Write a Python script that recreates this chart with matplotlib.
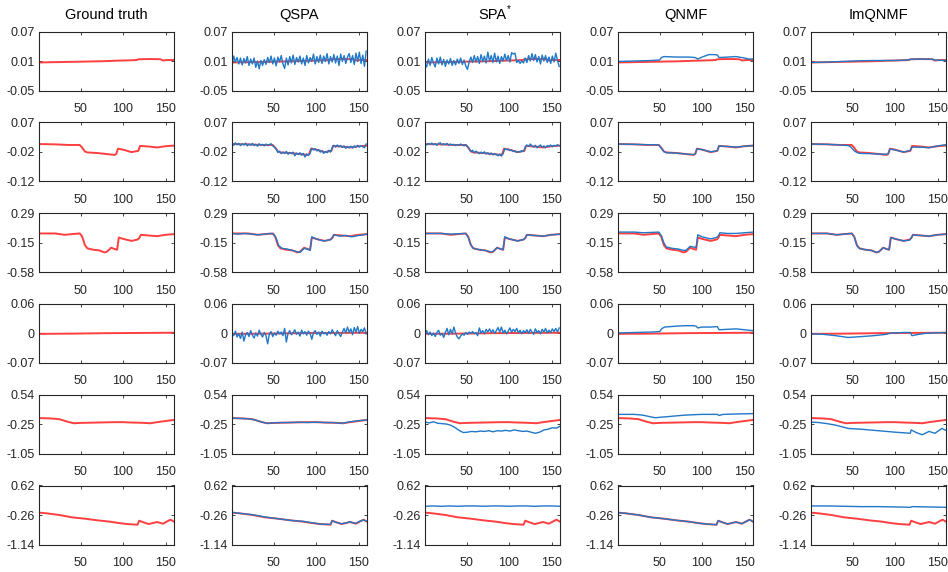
import numpy as np
import matplotlib
matplotlib.use("Agg")
import matplotlib.pyplot as plt

plt.rcParams['font.family'] = ['Liberation Sans', 'DejaVu Sans']

titles = ['Ground truth', 'QSPA', 'SPA', 'QNMF', 'ImQNMF']

ylims = [(-0.05, 0.07), (-0.12, 0.07), (-0.58, 0.29),
         (-0.07, 0.06), (-1.05, 0.54), (-1.14, 0.62)]
ytick_labels = [['-0.05', '0.01', '0.07'], ['-0.12', '-0.02', '0.07'],
                ['-0.58', '-0.15', '0.29'], ['-0.07', '0', '0.06'],
                ['-1.05', '-0.25', '0.54'], ['-1.14', '-0.26', '0.62']]
xticks = [50, 100, 150]

# ground truth curves (red)
gt1_x = [1, 15, 30, 45, 60, 75, 90, 100, 110, 116, 118, 130, 140, 144, 147, 152, 160]
gt1_y = [0.007, 0.0075, 0.008, 0.0085, 0.009, 0.0095, 0.0105, 0.011, 0.0115, 0.012,
         0.0135, 0.014, 0.0138, 0.0135, 0.011, 0.012, 0.012]
gt2_x = [1, 20, 35, 49, 52, 55, 58, 70, 80, 90, 92, 94, 100, 110, 116, 118, 120,
         130, 140, 150, 160]
gt2_y = [0.000, -0.001, -0.003, -0.003, -0.012, -0.024, -0.027, -0.029, -0.032,
         -0.035, -0.032, -0.015, -0.018, -0.026, -0.023, -0.022, -0.006, -0.008,
         -0.011, -0.007, -0.005]
gt3_x = [1, 20, 31, 49, 52, 55, 58, 65, 72, 78, 81, 86, 90, 93, 95, 100, 110, 117,
         119, 121, 130, 140, 150, 160]
gt3_y = [-0.01, -0.01, -0.03, -0.01, -0.06, -0.18, -0.23, -0.25, -0.26, -0.29,
         -0.28, -0.22, -0.24, -0.25, -0.07, -0.09, -0.12, -0.10, -0.08, -0.03,
         -0.04, -0.05, -0.03, -0.02]
gt4_x = [1, 40, 80, 120, 160]
gt4_y = [-0.006, -0.0055, -0.0045, -0.004, -0.0035]
gt5_x = [1, 15, 25, 35, 42, 50, 70, 90, 100, 110, 125, 132, 140, 150, 160]
gt5_y = [-0.09, -0.10, -0.12, -0.19, -0.23, -0.22, -0.21, -0.20, -0.20, -0.21,
         -0.22, -0.23, -0.20, -0.17, -0.14]
gt6_x = [1, 10, 25, 40, 55, 70, 85, 95, 105, 117, 119, 122, 130, 135, 140, 143,
         147, 152, 156, 160]
gt6_y = [-0.19, -0.21, -0.26, -0.33, -0.37, -0.42, -0.46, -0.50, -0.53, -0.55,
         -0.43, -0.46, -0.53, -0.50, -0.47, -0.49, -0.52, -0.45, -0.40, -0.46]

# noisy estimates, sampled every other frame
noisy_x = list(range(1, 161, 2))
qspa1_y = [0.000, 0.020, 0.008, 0.017, 0.004, 0.016, 0.002, 0.015, 0.006, 0.019,
           0.001, 0.014, 0.004, 0.016, -0.003, 0.010, -0.006, 0.011, 0.001, 0.013,
           0.003, 0.017, 0.007, 0.020, 0.004, 0.016, 0.000, 0.018, 0.008, 0.021,
           0.004, -0.005, 0.016, 0.002, 0.019, 0.006, 0.022, 0.003, 0.017, 0.008,
           0.020, 0.004, 0.016, 0.001, 0.021, 0.006, 0.017, 0.009, 0.024, 0.004,
           0.019, 0.007, 0.022, 0.005, 0.020, 0.009, 0.025, 0.004, 0.019, 0.008,
           0.023, 0.006, 0.020, 0.001, 0.024, 0.009, 0.021, 0.005, 0.018, 0.025,
           0.007, 0.021, 0.003, 0.026, 0.009, 0.028, 0.005, 0.022, -0.001, 0.030]
qspa2_y = [0.003, -0.004, 0.004, -0.002, 0.002, -0.005, 0.001, -0.003, 0.003, -0.006,
           0.000, -0.004, 0.002, -0.005, -0.001, -0.007, 0.001, -0.004, -0.001, -0.006,
           0.000, -0.005, -0.002, 0.001, -0.006, -0.010, -0.016, -0.027, -0.023, -0.031,
           -0.026, -0.030, -0.024, -0.033, -0.027, -0.031, -0.026, -0.038, -0.029, -0.034,
           -0.028, -0.036, -0.030, -0.042, -0.032, -0.037, -0.030, -0.013, -0.019, -0.015,
           -0.022, -0.018, -0.026, -0.021, -0.030, -0.024, -0.028, -0.020, -0.026, -0.012,
           -0.004, -0.010, -0.003, -0.009, -0.005, -0.011, -0.006, -0.014, -0.008, -0.012,
           -0.007, -0.013, -0.006, -0.011, -0.004, -0.010, -0.005, -0.009, -0.012, 0.000]
qspa4_y = [-0.004, -0.010, 0.000, -0.013, -0.006, -0.016, -0.002, -0.022, -0.008, -0.003,
           -0.012, 0.001, -0.009, -0.015, -0.004, -0.011, 0.002, -0.007, -0.013, -0.003,
           -0.010, -0.028, -0.006, -0.001, -0.012, -0.004, -0.009, 0.000, -0.006, -0.002,
           -0.010, 0.006, -0.024, -0.005, 0.001, -0.008, -0.003, 0.003, -0.007, -0.002,
           -0.011, 0.002, -0.006, -0.001, -0.009, 0.000, -0.005, -0.018, -0.003, 0.001,
           -0.007, -0.002, -0.011, 0.000, -0.006, -0.003, -0.009, -0.001, -0.006, 0.003,
           -0.004, -0.010, 0.001, -0.006, -0.012, -0.002, 0.006, -0.004, 0.009, -0.003,
           0.005, -0.008, 0.008, -0.002, 0.010, -0.005, 0.004, -0.001, 0.007, -0.006]
spa1_y = [0.004, -0.002, 0.014, 0.001, 0.017, 0.006, -0.002, 0.016, 0.004, 0.018,
          0.002, 0.013, -0.001, 0.012, 0.004, 0.015, 0.001, 0.011, 0.002, 0.014,
          0.005, 0.016, 0.003, 0.012, 0.000, -0.007, 0.008, 0.018, 0.007, 0.021,
          0.008, 0.019, 0.005, 0.023, 0.009, 0.020, 0.006, 0.028, 0.010, 0.021,
          0.007, 0.026, 0.008, 0.020, 0.005, 0.019, 0.010, 0.024, 0.011, 0.021,
          0.008, 0.027, 0.024, 0.026, 0.007, 0.011, 0.005, 0.010, 0.006, 0.016,
          0.007, 0.021, 0.010, 0.025, 0.011, 0.023, 0.008, 0.019, 0.004, 0.022,
          0.010, 0.021, 0.007, 0.018, 0.005, 0.020, 0.008, 0.026, 0.012, -0.001]
spa2_y = [0.001, -0.003, 0.002, -0.001, 0.003, -0.002, 0.001, -0.004, 0.002, 0.004,
          -0.003, 0.001, -0.002, 0.002, -0.004, 0.000, -0.003, -0.001, -0.005, -0.002,
          -0.004, 0.000, -0.003, -0.006, -0.002, -0.007, -0.015, -0.024, -0.020, -0.028,
          -0.023, -0.027, -0.031, -0.026, -0.030, -0.025, -0.032, -0.028, -0.034, -0.029,
          -0.035, -0.031, -0.033, -0.038, -0.032, -0.039, -0.031, -0.015, -0.018, -0.016,
          -0.021, -0.019, -0.024, -0.022, -0.027, -0.024, -0.026, -0.021, -0.024, -0.010,
          -0.003, -0.008, 0.000, -0.006, -0.010, -0.004, -0.012, -0.007, -0.003, -0.010,
          -0.006, -0.012, -0.005, -0.008, -0.003, -0.009, -0.004, -0.007, -0.002, -0.006]
spa4_y = [-0.006, 0.001, -0.008, -0.002, -0.010, -0.004, -0.012, -0.003, 0.002, -0.009,
          -0.005, -0.014, -0.003, 0.006, -0.008, 0.004, -0.006, 0.009, -0.004, -0.013,
          -0.017, -0.011, -0.006, -0.009, -0.003, -0.007, -0.002, -0.005, -0.001, -0.006,
          -0.003, -0.010, 0.007, -0.004, 0.001, -0.006, 0.004, -0.002, 0.005, -0.003,
          0.003, -0.005, 0.001, 0.008, -0.002, 0.009, -0.004, 0.002, -0.006, 0.000,
          0.007, -0.003, 0.004, -0.001, 0.006, -0.004, 0.002, -0.006, 0.001, -0.003,
          0.003, -0.005, 0.004, -0.002, -0.007, 0.005, -0.003, 0.001, -0.006, 0.004,
          -0.002, 0.006, -0.004, 0.002, -0.003, 0.005, -0.001, 0.006, -0.002, 0.007]

# smoother estimates
qspa3_x = [1, 8, 16, 24, 32, 40, 46, 50, 53, 56, 60, 66, 72, 78, 81, 86, 90, 93, 95,
           100, 105, 110, 114, 117, 119, 121, 128, 135, 142, 150, 156, 160]
qspa3_y = [-0.01, -0.02, -0.01, -0.02, -0.03, -0.02, -0.01, -0.02, -0.08, -0.19,
           -0.23, -0.24, -0.26, -0.28, -0.29, -0.23, -0.24, -0.26, -0.06, -0.09,
           -0.11, -0.12, -0.11, -0.10, -0.07, -0.03, -0.05, -0.04, -0.06, -0.04,
           -0.03, -0.02]
qspa5_x = [1, 10, 20, 28, 35, 42, 50, 60, 70, 80, 90, 100, 110, 120, 128, 133, 140,
           150, 160]
qspa5_y = [-0.09, -0.10, -0.11, -0.14, -0.19, -0.23, -0.22, -0.21, -0.21, -0.20,
           -0.21, -0.20, -0.21, -0.21, -0.23, -0.22, -0.19, -0.16, -0.14]
qspa6_y = [-0.18, -0.21, -0.25, -0.32, -0.37, -0.42, -0.45, -0.49, -0.53, -0.54,
           -0.43, -0.47, -0.52, -0.50, -0.46, -0.49, -0.51, -0.44, -0.41, -0.45]

spa3_y = [-0.01, -0.01, -0.02, -0.01, -0.07, -0.18, -0.23, -0.25, -0.26, -0.28,
          -0.28, -0.22, -0.24, -0.25, -0.06, -0.09, -0.12, -0.10, -0.08, -0.03,
          -0.04, -0.05, -0.03, -0.02]
spa5_x = list(range(1, 161, 5)) + [160]
spa5_y = [-0.20, -0.22, -0.19, -0.23, -0.24, -0.25, -0.28, -0.34, -0.42, -0.48,
          -0.47, -0.45, -0.46, -0.44, -0.45, -0.43, -0.46, -0.43, -0.44, -0.42,
          -0.44, -0.41, -0.43, -0.45, -0.44, -0.47, -0.50, -0.47, -0.41, -0.39,
          -0.35, -0.36, -0.31]
spa6_x = [1, 10, 20, 30, 40, 50, 60, 70, 80, 90, 100, 110, 120, 130, 140, 150, 160]
spa6_y = [0.00, 0.01, 0.00, 0.01, 0.00, 0.01, 0.01, 0.00, 0.01, 0.01, 0.00, 0.01,
          0.01, 0.00, 0.01, 0.01, 0.00]

qnmf1_x = [1, 20, 40, 50, 52, 55, 70, 85, 92, 95, 100, 108, 115, 118, 120, 130,
           140, 150, 155, 160]
qnmf1_y = [0.009, 0.010, 0.011, 0.012, 0.017, 0.019, 0.018, 0.018, 0.017, 0.014,
           0.018, 0.023, 0.023, 0.022, 0.017, 0.018, 0.019, 0.016, 0.014, 0.014]
qnmf2_y = [0.000, -0.001, -0.002, -0.003, -0.013, -0.024, -0.028, -0.029, -0.032,
           -0.034, -0.031, -0.015, -0.018, -0.025, -0.023, -0.021, -0.006, -0.008,
           -0.010, -0.007, -0.005]
qnmf3_y = [0.01, 0.01, 0.00, 0.01, -0.04, -0.15, -0.21, -0.23, -0.24, -0.26, -0.26,
           -0.20, -0.21, -0.22, -0.03, -0.06, -0.09, -0.07, -0.05, 0.00, -0.01,
           -0.01, 0.00, 0.01]
qnmf4_x = [1, 20, 40, 50, 53, 56, 70, 80, 90, 93, 95, 100, 110, 118, 120, 130, 140,
           150, 160]
qnmf4_y = [-0.004, -0.003, -0.002, -0.001, 0.006, 0.009, 0.011, 0.012, 0.012, 0.011,
           0.007, 0.009, 0.009, 0.010, 0.003, 0.004, 0.005, 0.003, 0.001]
qnmf5_x = [1, 20, 30, 40, 45, 60, 80, 100, 118, 120, 125, 140, 160]
qnmf5_y = [0.01, 0.01, -0.01, -0.06, -0.08, -0.05, -0.01, 0.01, 0.01, -0.02, 0.01,
           0.02, 0.03]
qnmf6_y = [-0.19, -0.21, -0.26, -0.33, -0.37, -0.42, -0.46, -0.50, -0.53, -0.55,
           -0.43, -0.46, -0.53, -0.50, -0.47, -0.49, -0.52, -0.45, -0.40, -0.46]

imq1_y = [0.007, 0.0075, 0.0085, 0.0095, 0.0105, 0.011, 0.011, 0.011, 0.0118, 0.012,
          0.0135, 0.014, 0.0138, 0.0135, 0.012, 0.0115, 0.011]
imq2_x = [1, 20, 35, 45, 48, 52, 55, 58, 70, 80, 90, 92, 94, 100, 110, 116, 118, 120,
          130, 140, 150, 160]
imq2_y = [0.000, -0.001, -0.003, -0.005, -0.010, -0.022, -0.027, -0.030, -0.031,
          -0.032, -0.033, -0.030, -0.016, -0.019, -0.026, -0.022, -0.020, -0.010,
          -0.010, -0.012, -0.006, -0.002]
imq3_y = [-0.01, -0.01, -0.03, -0.01, -0.06, -0.19, -0.23, -0.25, -0.26, -0.29,
          -0.28, -0.22, -0.24, -0.25, -0.07, -0.09, -0.12, -0.11, -0.08, -0.03,
          -0.04, -0.05, -0.03, -0.02]
imq4_x = [1, 15, 30, 45, 60, 75, 90, 95, 100, 110, 118, 120, 125, 135, 145, 160]
imq4_y = [-0.006, -0.007, -0.010, -0.014, -0.012, -0.010, -0.007, -0.004, -0.004,
          -0.003, -0.003, -0.010, -0.008, -0.005, -0.004, -0.003]
imq5_x = [1, 10, 20, 30, 40, 45, 60, 80, 100, 118, 119, 125, 132, 140, 147, 155, 160]
imq5_y = [-0.20, -0.21, -0.24, -0.28, -0.34, -0.37, -0.39, -0.43, -0.47, -0.50,
          -0.41, -0.48, -0.54, -0.45, -0.50, -0.37, -0.42]
imq6_x = [1, 20, 40, 60, 80, 100, 118, 120, 140, 160]
imq6_y = [0.01, 0.01, 0.00, -0.01, -0.01, -0.02, -0.03, -0.01, -0.02, -0.03]

gt = [(gt1_x, gt1_y), (gt2_x, gt2_y), (gt3_x, gt3_y),
      (gt4_x, gt4_y), (gt5_x, gt5_y), (gt6_x, gt6_y)]

# estimates per row, one entry per method column
estimates = [
    [(noisy_x, qspa1_y), (noisy_x, spa1_y), (qnmf1_x, qnmf1_y), (gt1_x, imq1_y)],
    [(noisy_x, qspa2_y), (noisy_x, spa2_y), (gt2_x, qnmf2_y), (imq2_x, imq2_y)],
    [(qspa3_x, qspa3_y), (gt3_x, spa3_y), (gt3_x, qnmf3_y), (gt3_x, imq3_y)],
    [(noisy_x, qspa4_y), (noisy_x, spa4_y), (qnmf4_x, qnmf4_y), (imq4_x, imq4_y)],
    [(qspa5_x, qspa5_y), (spa5_x, spa5_y), (qnmf5_x, qnmf5_y), (imq5_x, imq5_y)],
    [(gt6_x, qspa6_y), (spa6_x, spa6_y), (gt6_x, qnmf6_y), (imq6_x, imq6_y)],
]

red = '#ff2a2a'
blue = '#1f78c8'
dark = '#262626'

W, H = 948, 572
fig = plt.figure(figsize=(W / 100, H / 100), dpi=100)

for r in range(6):
    lo, hi = ylims[r]
    for c in range(5):
        left = 39 + 193 * c
        top = 31.5 + 90.8 * r
        ax = fig.add_axes([left / W, 1 - (top + 59) / H, 135 / W, 59 / H])
        gx, gy = gt[r]
        ax.plot(gx, gy, color=red, lw=1.4, alpha=0.9)
        if c > 0:
            ex, ey = estimates[r][c - 1]
            ax.plot(ex, ey, color=blue, lw=1.0)
        ax.set_xlim(1, 160)
        ax.set_ylim(lo, hi)
        ax.set_xticks(xticks)
        ax.set_yticks([lo, (lo + hi) / 2, hi])
        ax.set_yticklabels(ytick_labels[r])
        ax.tick_params(direction='in', length=2.5, width=0.6, colors=dark,
                       top=True, right=True, labelsize=9)
        ax.tick_params(axis='x', pad=9)
        ax.tick_params(axis='y', pad=3)
        for s in ax.spines.values():
            s.set_color(dark)
            s.set_linewidth(0.8)
        if r == 0:
            t = ax.set_title(titles[c], fontsize=10.5, color='black', pad=9)
            if titles[c] == 'SPA':
                ax.annotate('*', xy=(1, 1), xycoords=t, xytext=(0.3, 2.5),
                            textcoords='offset points', fontsize=7,
                            ha='left', va='top')

fig.savefig('out.png', dpi=100)
